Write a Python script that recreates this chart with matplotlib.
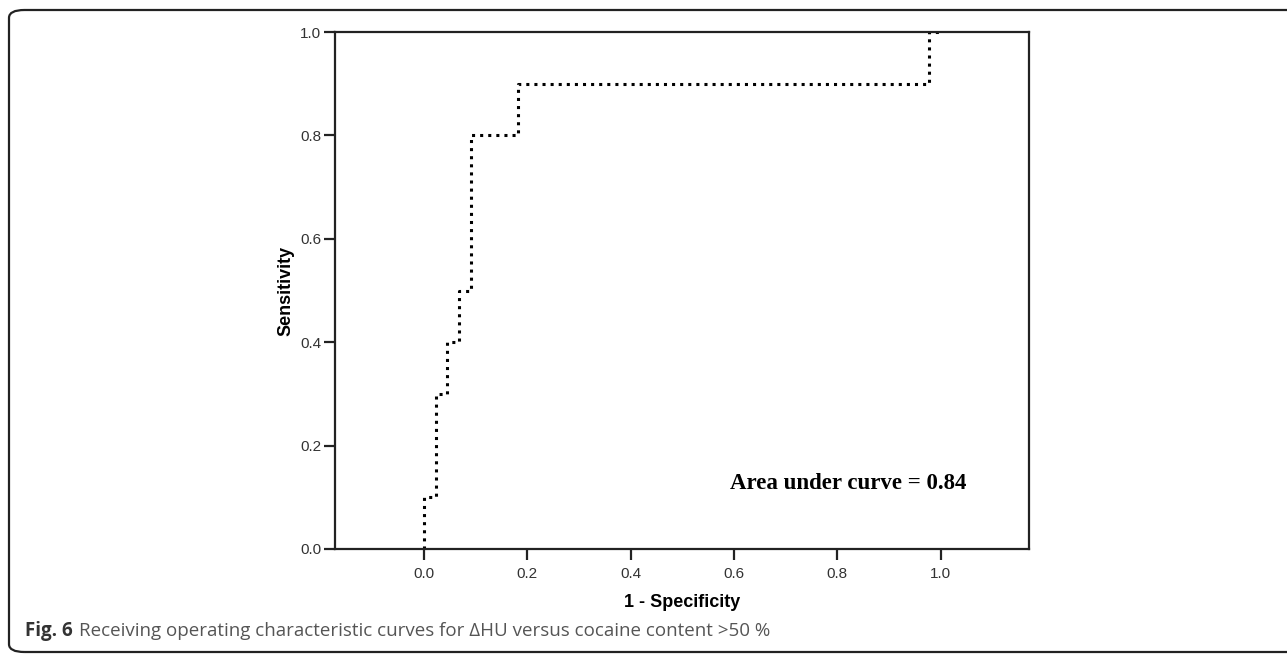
import matplotlib
matplotlib.use("Agg")
import matplotlib.pyplot as plt
from matplotlib.patches import FancyBboxPatch

# ROC curve points (1 - specificity, sensitivity)
fpr = [0.0, 0.0, 1/44, 1/44, 2/44, 2/44, 3/44, 3/44, 4/44, 4/44,
       8/44, 8/44, 43/44, 43/44, 1.0]
tpr = [0.0, 0.1, 0.1, 0.3, 0.3, 0.4, 0.4, 0.5, 0.5, 0.8,
       0.8, 0.9, 0.9, 1.0, 1.0]
auc = 0.84

xticks = [0.0, 0.2, 0.4, 0.6, 0.8, 1.0]
yticks = [0.0, 0.2, 0.4, 0.6, 0.8, 1.0]

fig = plt.figure(figsize=(12.87, 6.55), dpi=100)

# rounded frame around the figure
frame = FancyBboxPatch((9 / 1287, 3 / 655), 1.2, 642 / 655,
                       boxstyle="round,pad=0,rounding_size=0.012",
                       transform=fig.transFigure, fill=False,
                       edgecolor="#222222", linewidth=1.6, clip_on=False)
fig.patches.append(frame)

ax = fig.add_axes([335 / 1287, 1 - 549 / 655, 694 / 1287, 517 / 655])
ax.plot(fpr, tpr, color="black", linestyle=":", linewidth=2.2)

ax.set_xlim(-0.172, 1.171)
ax.set_ylim(0, 1.0)
ax.set_xticks(xticks)
ax.set_yticks(yticks)
ax.set_xticklabels([f"{t:.1f}" for t in xticks])
ax.set_yticklabels([f"{t:.1f}" for t in yticks])

for s in ax.spines.values():
    s.set_linewidth(1.6)
    s.set_color("#222222")
ax.tick_params(direction="out", length=8, width=1.6, color="#222222",
               labelsize=11, labelcolor="#333333")
ax.tick_params(axis="x", pad=5)
ax.tick_params(axis="y", pad=2)
for lbl in ax.get_xticklabels() + ax.get_yticklabels():
    lbl.set_family("Liberation Sans")

ax.set_xlabel("1 - Specificity", fontsize=13, fontweight="bold",
              family="Liberation Sans", labelpad=9)
ax.set_ylabel("Sensitivity", fontsize=13, fontweight="bold",
              family="Liberation Sans", labelpad=4)

ax.text(0.822, 0.126, f"Area under curve = {auc:.2f}", fontsize=16.5,
        fontweight="bold", family="Liberation Serif", ha="center", va="center")

# caption
cap_y = 1 - 636 / 655
t1 = fig.text(25 / 1287, cap_y, "Fig. 6", fontsize=13.5, fontweight="bold",
              family="Open Sans", color="#333333", va="baseline")
fig.canvas.draw()
bb = t1.get_window_extent()
fig.text(bb.x1 / 1287 + 6 / 1287, cap_y,
         "Receiving operating characteristic curves for \u0394HU versus cocaine content >50 %",
         fontsize=13.5, family="Open Sans", color="#555555", va="baseline")

fig.savefig("out.png", dpi=100)
